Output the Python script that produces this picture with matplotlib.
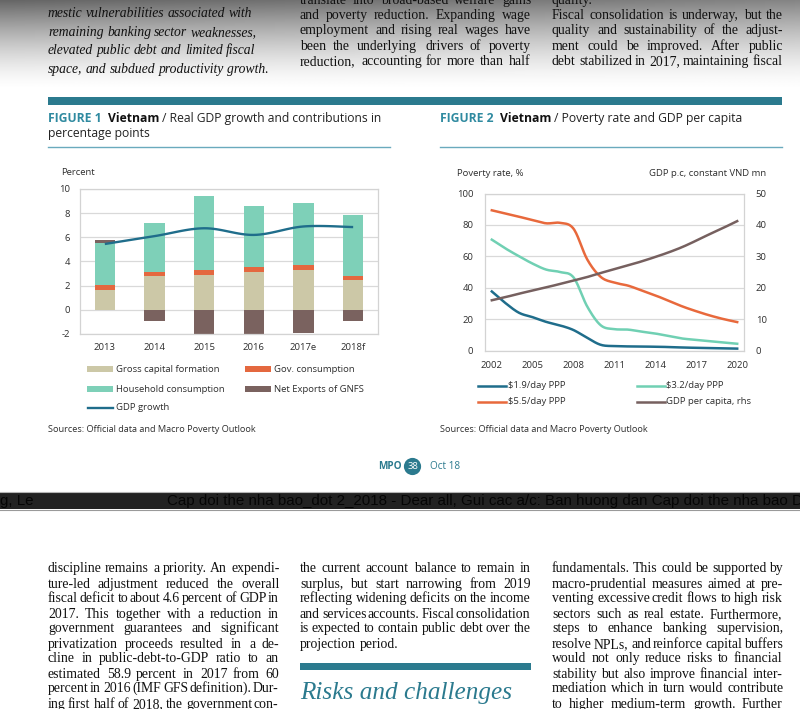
import numpy as np
import matplotlib
matplotlib.use('Agg')
import matplotlib.pyplot as plt
from matplotlib.patches import Rectangle, Circle
from matplotlib.lines import Line2D

# ---------------- data : Figure 1 ----------------
fig1_years = ['2013', '2014', '2015', '2016', '2017e', '2018f']
gross_capital = [1.67, 2.78, 2.92, 3.14, 3.28, 2.44]
gov_consumption = [0.41, 0.36, 0.39, 0.42, 0.47, 0.37]
household_consumption = [3.48, 4.08, 6.13, 5.02, 5.05, 5.02]
net_exports = [0.19, -0.92, -2.2, -2.2, -1.94, -0.90]
gdp_growth = [5.45, 6.1, 6.75, 6.2, 6.9, 6.85]
fig1_yticks = [-2, 0, 2, 4, 6, 8, 10]

# ---------------- data : Figure 2 ----------------
fig2_years = list(range(2002, 2021))
pov_190 = [37.6, 30.2, 24.0, 21.2, 18.2, 16.0, 13.0, 8.0, 3.6, 2.8, 2.6, 2.5, 2.4, 2.2, 1.9, 1.7, 1.5, 1.3, 1.2]
pov_320 = [70.6, 65.0, 60.0, 55.3, 51.5, 50.0, 46.5, 28.0, 16.0, 13.6, 13.3, 12.0, 10.8, 9.2, 7.6, 6.8, 6.0, 5.1, 4.3]
pov_550 = [89.3, 87.2, 85.2, 83.0, 81.0, 81.3, 77.5, 58.0, 46.8, 43.2, 41.3, 38.2, 35.1, 31.5, 28.0, 25.0, 22.3, 20.0, 18.1]
gdp_pc = [16.0, 17.0, 18.1, 19.1, 20.1, 21.2, 22.3, 23.4, 24.7, 25.9, 27.1, 28.4, 29.8, 31.3, 33.0, 35.0, 37.1, 39.1, 41.2]
fig2_xticks = [2002, 2005, 2008, 2011, 2014, 2017, 2020]
fig2_yticks_l = [0, 20, 40, 60, 80, 100]
fig2_yticks_r = [0, 10, 20, 30, 40, 50]

# ---------------- page text ----------------
top_left = ["mestic vulnerabilities associated with",
            "remaining banking sector weaknesses,",
            "elevated public debt and limited fiscal",
            "space, and subdued productivity growth."]
top_mid = ["translate into broad-based welfare gains",
           "and poverty reduction. Expanding wage",
           "employment and rising real wages have",
           "been the underlying drivers of poverty",
           "reduction, accounting for more than half"]
top_right = ["quality.",
             "Fiscal consolidation is underway, but the",
             "quality and sustainability of the adjust-",
             "ment could be improved. After public",
             "debt stabilized in 2017, maintaining fiscal"]
bot_left = ["discipline remains a priority. An expendi-",
            "ture-led adjustment reduced the overall",
            "fiscal deficit to about 4.6 percent of GDP in",
            "2017. This together with a reduction in",
            "government guarantees and significant",
            "privatization proceeds resulted in a de-",
            "cline in public-debt-to-GDP ratio to an",
            "estimated 58.9 percent in 2017 from 60",
            "percent in 2016 (IMF GFS definition). Dur-",
            "ing first half of 2018, the government con-"]
bot_mid = ["the current account balance to remain in",
           "surplus, but start narrowing from 2019",
           "reflecting widening deficits on the income",
           "and services accounts. Fiscal consolidation",
           "is expected to contain public debt over the",
           "projection period."]
bot_right = ["fundamentals. This could be supported by",
             "macro-prudential measures aimed at pre-",
             "venting excessive credit flows to high risk",
             "sectors such as real estate. Furthermore,",
             "steps to enhance banking supervision,",
             "resolve NPLs, and reinforce capital buffers",
             "would not only reduce risks to financial",
             "stability but also improve financial inter-",
             "mediation which in turn would contribute",
             "to higher medium-term growth. Further"]

# ---------------- styles ----------------
SANS = ['Open Sans', 'DejaVu Sans']
SERIF = ['Liberation Serif', 'DejaVu Serif']
TEAL = '#2B7A8E'
TEAL_T = '#2F8AA0'
C_GCF = '#CCC8A7'
C_GOV = '#E4683F'
C_HH = '#7ED0B8'
C_NX = '#7A625F'
C_LINE = '#1F6D8B'
C_P19 = '#1F6D8B'
C_P32 = '#70D0B3'
C_P55 = '#E8693C'
C_GPC = '#76605F'
GRID = '#D9D9D9'
TXT = '#2E2E2E'

W, H = 800, 709
fig = plt.figure(figsize=(W / 100, H / 100), dpi=100)
fig.patch.set_facecolor('white')
bg = fig.add_axes([0, 0, 1, 1])
bg.set_xlim(0, W)
bg.set_ylim(H, 0)
bg.axis('off')
renderer = fig.canvas.get_renderer()

_cache = {}


def measure(s, size, family, style='normal', weight='normal'):
    key = (s, round(size, 3), tuple(family), style, weight)
    if key not in _cache:
        t = bg.text(0, 0, s, fontsize=size, family=family, style=style, weight=weight)
        _cache[key] = t.get_window_extent(renderer).width
        t.remove()
    return _cache[key]


def space_w(size, family, style='normal', weight='normal'):
    return measure('a a', size, family, style, weight) - measure('aa', size, family, style, weight)


# ---- top gradient ----
ys = np.arange(0, 95)[:, None]
xs = np.linspace(0, W, 80)[None, :]
f = np.clip(1 - ys / 90.0, 0, 1) ** 1.5
a = 0.60 - 0.12 * xs / W
grad = 1 - a * f
bg.imshow(grad, extent=(0, W, 95, 0), cmap='gray', vmin=0, vmax=1,
          aspect='auto', origin='upper', zorder=0, interpolation='bilinear')
bg.set_xlim(0, W)
bg.set_ylim(H, 0)


# ---- body text with justification ----
def natural(line, size, family, style='normal'):
    words = line.split()
    return sum(measure(w, size, family, style) for w in words) + (len(words) - 1) * space_w(size, family, style)


def draw_lines(lines, x0, x1, baselines, size, justify, family, style='normal', color='#111111'):
    colw = x1 - x0
    for line, yb, j in zip(lines, baselines, justify):
        words = line.split()
        s = size
        if j:
            while True:
                wsum = sum(measure(w, s, family, style) for w in words)
                if wsum + (len(words) - 1) * 1.3 <= colw or s < 5:
                    break
                s -= 0.1
        widths = [measure(w, s, family, style) for w in words]
        if j and len(words) > 1:
            gap = (colw - sum(widths)) / (len(words) - 1)
        else:
            gap = space_w(s, family, style)
        x = x0
        for w, wd in zip(words, widths):
            bg.text(round(x), round(yb), w, fontsize=s, family=family, style=style, color=color,
                    ha='left', va='baseline', zorder=3)
            x += wd + gap


just_sets = [(top_mid, [True] * 5), (top_right, [False] + [True] * 4),
             (bot_left, [True] * 10), (bot_mid, [True] * 5 + [False]), (bot_right, [True] * 10)]
ratios = []
for ls, js in just_sets:
    for l, j in zip(ls, js):
        if j:
            ratios.append(231.0 / natural(l, 10.0, SERIF))
body_size = round(10.0 * float(np.percentile(ratios, 25)), 1)

top_bl = [3.6 + 15.3 * i for i in range(5)]
draw_lines(top_mid, 300, 531, top_bl, body_size, [True] * 5, SERIF)
draw_lines(top_right, 552, 783, top_bl, body_size, [False] + [True] * 4, SERIF)

ital_size = round(10.0 * 222.0 / natural(top_left[3], 10.0, SERIF, 'italic'), 1)
draw_lines(top_left, 48, 279, [17.0 + 18.6 * i for i in range(4)], ital_size, [False] * 4, SERIF, 'italic')

bot_bl = [572.5 + 15.0 * i for i in range(10)]
draw_lines(bot_left, 48, 279, bot_bl, body_size, [True] * 10, SERIF)
draw_lines(bot_mid, 300, 531, bot_bl, body_size, [True] * 5 + [False], SERIF)
draw_lines(bot_right, 552, 783, bot_bl, body_size, [True] * 10, SERIF)

head_size = 10.0 * 212.0 / measure('Risks and challenges', 10.0, SERIF, 'italic')
bg.text(300, 699, 'Risks and challenges', fontsize=head_size, family=SERIF, style='italic',
        color=TEAL, ha='left', va='baseline', zorder=3)
bg.add_patch(Rectangle((300, 663), 231, 7, color=TEAL, lw=0, zorder=2))

# ---- figure header bars and titles ----
bg.add_patch(Rectangle((48, 97), 734, 8, color=TEAL, lw=0, zorder=2))
bg.plot([48, 390], [147, 147], color='#6AAABD', lw=1.0, zorder=2)
bg.plot([440, 782], [147, 147], color='#6AAABD', lw=1.0, zorder=2)

TS = 8.7


def title(x, y, parts):
    for txt, col, wt, gap in parts:
        bg.text(round(x), y, txt, fontsize=TS, family=SANS, weight=wt, color=col,
                ha='left', va='baseline', zorder=3)
        x += measure(txt, TS, SANS, weight=wt) + gap
    return x


sp = space_w(TS, SANS)
title(48, 122, [('FIGURE 1', TEAL_T, 'bold', 2 * sp), ('Vietnam', '#111111', 'bold', sp),
                ('/ Real GDP growth and contributions in', '#222222', 'normal', 0)])
bg.text(48, 137, 'percentage points', fontsize=TS, family=SANS, color='#222222',
        ha='left', va='baseline', zorder=3)
title(440, 122, [('FIGURE 2', TEAL_T, 'bold', 2 * sp), ('Vietnam', '#111111', 'bold', sp),
                 ('/ Poverty rate and GDP per capita', '#222222', 'normal', 0)])

FS = 6.8
# ---- Figure 1 axes ----
ax1 = fig.add_axes([80 / W, 1 - 334 / H, 298 / W, 145 / H])
xpos = np.arange(len(fig1_years))
pos_base = np.zeros(len(xpos))
neg_base = np.zeros(len(xpos))
for vals, col in [(gross_capital, C_GCF), (gov_consumption, C_GOV),
                  (household_consumption, C_HH), (net_exports, C_NX)]:
    v = np.asarray(vals, float)
    bottoms = np.where(v >= 0, pos_base, neg_base)
    ax1.bar(xpos, v, width=0.41, bottom=bottoms, color=col, lw=0, zorder=2)
    pos_base = pos_base + np.where(v >= 0, v, 0)
    neg_base = neg_base + np.where(v < 0, v, 0)


def smooth(x, y, k=16):
    P = np.column_stack([np.asarray(x, float), np.asarray(y, float)])
    n = len(P)
    out = []
    t = np.linspace(0, 1, k, endpoint=False)[:, None]
    h00 = 2 * t ** 3 - 3 * t ** 2 + 1
    h10 = t ** 3 - 2 * t ** 2 + t
    h01 = -2 * t ** 3 + 3 * t ** 2
    h11 = t ** 3 - t ** 2
    for i in range(n - 1):
        p0 = P[i - 1] if i > 0 else P[i]
        p1, p2 = P[i], P[i + 1]
        p3 = P[i + 2] if i + 2 < n else P[i + 1]
        m1 = (p2 - p0) / 2.0
        m2 = (p3 - p1) / 2.0
        out.append(h00 * p1 + h10 * m1 + h01 * p2 + h11 * m2)
    out.append(P[-1:])
    r = np.vstack(out)
    return r[:, 0], r[:, 1]


sx, sy = smooth(xpos, gdp_growth)
ax1.plot(sx, sy, color=C_LINE, lw=1.7, zorder=3, solid_capstyle='butt')
ax1.set_xlim(-0.5, len(xpos) - 0.5)
ax1.set_ylim(fig1_yticks[0], fig1_yticks[-1])
ax1.set_yticks(fig1_yticks)
ax1.set_yticklabels([str(v) for v in fig1_yticks])
ax1.set_xticks(xpos)
ax1.set_xticklabels(fig1_years)
ax1.yaxis.grid(True, color=GRID, lw=0.9)
ax1.set_axisbelow(True)
ax1.tick_params(axis='y', length=0, pad=7.0, labelsize=FS, labelcolor=TXT)
ax1.tick_params(axis='x', length=0, pad=6.6, labelsize=FS, labelcolor=TXT)
for lab in ax1.get_xticklabels() + ax1.get_yticklabels():
    lab.set_family(SANS)
for spn in ax1.spines.values():
    spn.set_color('#D3D3D3')
    spn.set_linewidth(0.9)

bg.text(61, 172.7, 'Percent', fontsize=FS, family=SANS, color=TXT, ha='left', va='center', zorder=3)

# legend figure 1
leg1 = [((87, 369), 'patch', C_GCF, 'Gross capital formation'),
        ((245, 369), 'patch', C_GOV, 'Gov. consumption'),
        ((87, 389), 'patch', C_HH, 'Household consumption'),
        ((245, 389), 'patch', C_NX, 'Net Exports of GNFS'),
        ((87, 408), 'line', C_LINE, 'GDP growth')]
for (x, y), kind, col, lab in leg1:
    if kind == 'patch':
        bg.add_patch(Rectangle((x, y - 3.2), 26, 6.4, color=col, lw=0, zorder=3))
    else:
        bg.add_line(Line2D([x + 1, x + 26], [y, y], color=col, lw=1.7, zorder=3))
    bg.text(x + 29, y, lab, fontsize=FS, family=SANS, color=TXT, ha='left', va='center', zorder=3)

bg.text(48, 430, 'Sources: Official data and Macro Poverty Outlook', fontsize=6.6, family=SANS,
        color=TXT, ha='left', va='center', zorder=3)

# ---- Figure 2 axes ----
ax2 = fig.add_axes([485 / W, 1 - 350.5 / H, 259 / W, 157 / H])
for vals, col in [(pov_190, C_P19), (pov_320, C_P32), (pov_550, C_P55)]:
    sx, sy = smooth(fig2_years, vals)
    ax2.plot(sx, sy, color=col, lw=1.8, zorder=3)
ax2.set_xlim(fig2_years[0] - 0.5, fig2_years[-1] + 0.5)
ax2.set_ylim(fig2_yticks_l[0], fig2_yticks_l[-1])
ax2.set_yticks(fig2_yticks_l)
ax2.set_xticks(fig2_xticks)
ax2.set_xticklabels([str(v) for v in fig2_xticks])
ax2.yaxis.grid(True, color=GRID, lw=0.9)
ax2.set_axisbelow(True)
ax2.tick_params(axis='y', length=0, pad=8.4, labelsize=FS, labelcolor=TXT)
ax2.tick_params(axis='x', length=0, pad=7.6, labelsize=FS, labelcolor=TXT)
for spn in ax2.spines.values():
    spn.set_color('#D3D3D3')
    spn.set_linewidth(0.9)
ax2r = ax2.twinx()
sx, sy = smooth(fig2_years, gdp_pc)
ax2r.plot(sx, sy, color=C_GPC, lw=1.8, zorder=3)
ax2r.set_ylim(fig2_yticks_r[0], fig2_yticks_r[-1])
ax2r.set_yticks(fig2_yticks_r)
ax2r.tick_params(axis='y', length=0, pad=8.4, labelsize=FS, labelcolor=TXT)
for spn in ax2r.spines.values():
    spn.set_visible(False)
for lab in ax2.get_xticklabels() + ax2.get_yticklabels() + ax2r.get_yticklabels():
    lab.set_family(SANS)

bg.text(457, 174, 'Poverty rate, %', fontsize=FS, family=SANS, color=TXT, ha='left', va='center', zorder=3)
bg.text(766, 174, 'GDP p.c, constant VND mn', fontsize=FS, family=SANS, color=TXT, ha='right', va='center', zorder=3)

leg2 = [((478, 386), C_P19, '$1.9/day PPP'),
        ((637, 386), C_P32, '$3.2/day PPP'),
        ((478, 402), C_P55, '$5.5/day PPP'),
        ((637, 402), C_GPC, 'GDP per capita, rhs')]
for (x, y), col, lab in leg2:
    bg.add_line(Line2D([x, x + 28], [y, y], color=col, lw=1.8, zorder=3))
    bg.text(x + 29.5, y, lab, fontsize=FS, family=SANS, color=TXT, ha='left', va='center', zorder=3)

bg.text(440, 430, 'Sources: Official data and Macro Poverty Outlook', fontsize=6.6, family=SANS,
        color=TXT, ha='left', va='center', zorder=3)

# ---- footer ----
bg.text(378, 466.5, 'MPO', fontsize=7.2, family=SANS, weight='bold', color=TEAL, ha='left', va='center', zorder=3)
bg.add_patch(Circle((412.5, 466.5), 8.6, color=TEAL, lw=0, zorder=3))
bg.text(412.5, 466.5, '38', fontsize=6.8, family=SANS, color='white', ha='center', va='center', zorder=4)
bg.text(430, 466.5, 'Oct 18', fontsize=7.2, family=SANS, color=TEAL, ha='left', va='center', zorder=3)

# ---- dark strip ----
bar = Rectangle((0, 492), W, 17, color='#222222', lw=0, zorder=2)
bg.add_patch(bar)
bg.plot([0, W], [491.5, 491.5], color='#B5B5B5', lw=0.8, zorder=3)
bg.plot([0, W], [509.5, 509.5], color='#9A9A9A', lw=0.8, zorder=3)
for x, s in [(0, 'g, Le'),
             (167, 'Cap doi the nha bao_dot 2_2018 - Dear all, Gui cac a/c: Ban huong dan Cap doi the nha bao De')]:
    t = bg.text(x, 504.5, s, fontsize=10.9, family=['Liberation Sans Narrow', 'Liberation Sans'],
                color='#050505', ha='left', va='baseline', zorder=3)
    t.set_clip_path(bar)

fig.savefig('out.png', dpi=100, facecolor='white')
